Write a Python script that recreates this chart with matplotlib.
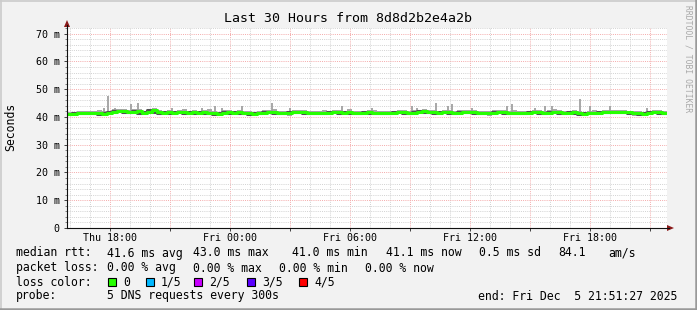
import numpy as np
import matplotlib
matplotlib.use("Agg")
import matplotlib.pyplot as plt
from matplotlib.lines import Line2D
from matplotlib.patches import Polygon, Rectangle

plt.rcParams['font.family'] = ['DejaVu Sans Mono']

# time in hours since Thu 00:00, 15 minute steps over the last 30 hours
start_h = 15.858
step_h = 0.25

median_ms = [
    41.2, 41.2, 41.5, 41.4, 41.3, 41.6, 41.5, 41.2, 41.4, 41.8, 42.3, 42.0, 41.7, 41.9, 42.1, 41.6, 41.8, 42.4, 41.9, 41.6,
    41.7, 41.3, 41.8, 41.9, 41.5, 41.7, 41.6, 41.8, 41.5, 41.4, 41.2, 41.6, 41.8, 41.5, 41.7, 41.6, 41.3, 41.2, 41.5, 41.6,
    41.7, 41.9, 41.6, 41.5, 41.3, 41.7, 41.8, 41.9, 41.6, 41.3, 41.5, 41.6, 41.4, 41.7, 41.8, 41.6, 41.9, 41.5, 41.3, 41.6,
    41.7, 41.6, 41.4, 41.5, 41.3, 41.4, 41.8, 41.7, 41.4, 41.6, 41.9, 42.0, 41.8, 41.7, 41.6, 41.8, 41.7, 41.5, 41.6, 41.7,
    41.9, 41.7, 41.5, 41.6, 41.3, 41.6, 41.8, 41.7, 41.5, 41.6, 41.3, 41.5, 41.4, 41.7, 41.8, 41.5, 41.6, 41.9, 41.7, 41.5,
    41.3, 41.8, 41.5, 41.2, 41.4, 41.6, 41.3, 41.7, 41.8, 41.8, 41.9, 41.9, 41.7, 41.3, 41.4, 41.2, 41.3, 41.8, 41.7, 41.5,
]
smoke_hi = [
    41.9, 41.8, 42.2, 42.0, 42.1, 42.3, 42.4, 42.0, 42.2, 42.9, 43.0, 42.8, 42.5, 42.8, 42.9, 42.3, 42.7, 43.2, 42.6, 42.3,
    42.6, 42.0, 42.5, 42.7, 42.2, 42.4, 42.3, 42.6, 42.8, 42.1, 41.9, 42.5, 42.6, 42.2, 42.5, 42.3, 42.0, 41.9, 42.2, 42.4,
    42.5, 42.7, 42.3, 42.2, 42.0, 42.4, 42.6, 42.6, 42.3, 42.0, 42.2, 42.4, 42.1, 42.6, 42.5, 42.3, 42.7, 42.2, 42.0, 42.3,
    42.4, 42.5, 42.1, 42.3, 42.0, 42.2, 42.6, 42.4, 42.2, 42.5, 42.6, 42.7, 42.5, 42.4, 42.3, 42.6, 42.4, 42.2, 42.4, 42.5,
    42.6, 42.4, 42.3, 42.3, 42.0, 42.4, 42.6, 42.5, 42.2, 42.4, 42.0, 42.3, 42.1, 42.5, 42.6, 42.3, 42.4, 42.7, 42.4, 42.2,
    42.1, 42.6, 42.3, 41.9, 42.1, 42.4, 42.0, 42.4, 42.5, 42.4, 42.6, 42.5, 42.3, 42.0, 42.1, 41.9, 42.0, 42.5, 42.4, 42.2,
]
smoke_lo = [
    40.7, 40.8, 41.0, 40.9, 40.8, 41.0, 41.0, 40.7, 40.8, 41.2, 41.5, 41.3, 41.0, 41.2, 41.4, 41.0, 41.1, 41.6, 41.2, 41.0,
    41.0, 40.8, 41.1, 41.2, 40.8, 41.0, 40.9, 41.1, 40.8, 40.7, 40.6, 40.9, 41.1, 40.8, 41.0, 40.9, 40.7, 40.6, 40.8, 40.9,
    41.0, 41.2, 40.9, 40.8, 40.5, 41.0, 41.1, 41.2, 40.9, 40.6, 40.8, 40.9, 40.7, 41.0, 41.1, 40.9, 41.2, 40.8, 40.6, 40.9,
    41.0, 40.9, 40.7, 40.8, 40.6, 40.7, 41.1, 41.0, 40.7, 40.9, 41.2, 41.3, 41.1, 41.0, 40.9, 41.1, 41.0, 40.8, 40.9, 41.0,
    41.2, 41.0, 40.8, 40.9, 40.4, 40.9, 41.1, 41.0, 40.8, 40.9, 40.6, 40.8, 40.7, 41.0, 41.1, 40.8, 40.9, 41.2, 41.0, 40.8,
    40.6, 41.1, 40.8, 40.5, 40.7, 40.9, 40.6, 41.0, 41.1, 41.1, 41.2, 41.2, 41.0, 40.2, 40.2, 40.5, 40.6, 41.1, 41.0, 40.8,
]
# single tall pings (hours, ms)
spike_h = [17.71, 17.91, 18.26, 19.06, 19.41, 21.11, 22.61, 23.26, 23.61, 24.61, 26.11, 27.01, 29.61, 31.11,
           33.11, 33.36, 34.31, 34.91, 35.11, 36.11, 37.86, 38.11, 39.26, 39.76, 40.11, 41.51, 42.01, 43.01, 44.86]
spike_ms = [43.4, 47.7, 43.4, 44.5, 45.2, 43.4, 43.4, 43.8, 43.4, 43.8, 44.9, 43.4, 43.8, 43.4,
            43.8, 43.4, 45.2, 43.8, 44.5, 43.4, 43.8, 44.5, 43.4, 44.1, 43.8, 46.3, 43.8, 43.8, 43.4]

xtick_h = [18, 24, 30, 36, 42]
xtick_labels = ['Thu 18:00', 'Fri 00:00', 'Fri 06:00', 'Fri 12:00', 'Fri 18:00']
ytick_ms = [0, 10, 20, 30, 40, 50, 60, 70]
ytick_labels = ['0', '10 m', '20 m', '30 m', '40 m', '50 m', '60 m', '70 m']

loss_labels = ['0', '1/5', '2/5', '3/5', '4/5']
loss_colors = ['#26ff00', '#00b8ff', '#c800ff', '#5a00ff', '#ff0000']

W, H = 697, 310


def fx(x):
    return x / W


def fy(y):
    return 1 - y / H


fig = plt.figure(figsize=(W / 100, H / 100), dpi=100)
fig.patch.set_facecolor('#f2f2f2')

ax = fig.add_axes([fx(67), fy(228), 600 / W, 200 / H])
ax.set_facecolor('white')
for s in ax.spines.values():
    s.set_visible(False)

end_h = start_h + 30
ax.set_xlim(start_h, end_h)
ax.set_ylim(0, 72.05)

# grid: 1h / 3h vertical, 2 ms / 10 ms horizontal
major_x = np.arange(18, end_h, 3)
minor_x = [h for h in range(16, int(end_h) + 1) if h % 3 != 0]
minor_y = [v for v in range(2, 73, 2) if v % 10 != 0]
ax.set_xticks(major_x)
ax.set_xticklabels([xtick_labels[xtick_h.index(h)] if h in xtick_h else '' for h in major_x])
ax.set_xticks(minor_x, minor=True)
ax.set_yticks(ytick_ms)
ax.set_yticklabels(ytick_labels)
ax.set_yticks(minor_y, minor=True)
ax.grid(which='minor', color='#d2d2d2', linestyle=(0, (1, 1.2)), linewidth=0.7)
ax.grid(which='major', color='#f4aaaa', linestyle=(0, (1, 1.2)), linewidth=0.7)
ax.set_axisbelow(True)
ax.tick_params(axis='x', which='major', length=2.2, width=0.7, color='#404040', pad=1.2, labelsize=7.2)
ax.tick_params(axis='x', which='minor', length=0)
ax.tick_params(axis='y', which='major', length=2.2, width=0.7, color='#404040', pad=3.2, labelsize=7.2)
ax.tick_params(axis='y', which='minor', length=1.5, width=0.7, color='#808080')

# smoke and median
t = start_h + step_h * np.arange(len(median_ms))
t_edges = np.append(t, end_h)
med = np.array(median_ms)
ax.fill_between(t_edges, np.append(smoke_lo, smoke_lo[-1]), np.append(smoke_hi, smoke_hi[-1]),
                step='post', color='#a8a8a8', linewidth=0, zorder=2)
idx = ((np.array(spike_h) - start_h) / step_h).astype(int)
ax.vlines(spike_h, med[idx], spike_ms, color='#a0a0a0', linewidth=1.3, zorder=2)
ax.step(t_edges, np.append(med, med[-1]), where='pre', color='#505050', linewidth=2.2, zorder=3)
ax.step(t_edges, np.append(med, med[-1]), where='post', color=loss_colors[0], linewidth=2.2, zorder=4)

# axes lines and arrows
fig.add_artist(Line2D([fx(67), fx(669)], [fy(228), fy(228)], color='#101010', linewidth=0.8))
fig.add_artist(Line2D([fx(67), fx(67)], [fy(228), fy(25)], color='#101010', linewidth=0.8))
fig.add_artist(Polygon([[fx(674), fy(228)], [fx(667), fy(225)], [fx(667), fy(231)]],
                       closed=True, color='#8b1a1a', linewidth=0))
fig.add_artist(Polygon([[fx(67), fy(20)], [fx(64), fy(27)], [fx(70), fy(27)]],
                       closed=True, color='#8b1a1a', linewidth=0))

# frame shading
fig.add_artist(Line2D([0, 1], [fy(0.5), fy(0.5)], color='#cbcbcb', linewidth=1.2))
fig.add_artist(Line2D([fx(0.5), fx(0.5)], [0, 1], color='#cbcbcb', linewidth=1.2))
fig.add_artist(Line2D([0, 1], [fy(309), fy(309)], color='#999999', linewidth=1.8))
fig.add_artist(Line2D([fx(696), fx(696)], [0, 1], color='#999999', linewidth=1.8))

# titles
fig.text(fx(348), fy(19), 'Last 30 Hours from 8d8d2b2e4a2b', ha='center', va='center', fontsize=9.5)
fig.text(fx(11), fy(127), 'Seconds', rotation=90, ha='center', va='center', fontsize=8.3)
fig.text(fx(688), fy(5), 'RRDTOOL / TOBI OETIKER', rotation=270, ha='center', va='top',
         fontsize=5.8, color='#a8a8a8')

# legend
fs = 8.3
rows = [
    (253, [(16, 'median rtt:'), (107, '41.6 ms avg'), (193, '43.0 ms max'), (292, '41.0 ms min'),
           (386, '41.1 ms now'), (479, '0.5 ms sd'), (558, '84.1'), (608, 'am/s')]),
    (268, [(16, 'packet loss:'), (107, '0.00 % avg'), (193, '0.00 % max'), (279, '0.00 % min'),
           (365, '0.00 % now')]),
    (282, [(16, 'loss color:')]),
    (296, [(16, 'probe:'), (107, '5 DNS requests every 300s'), (478, 'end: Fri Dec  5 21:51:27 2025')]),
]
for y, items in rows:
    for x, s in items:
        fig.text(fx(x), fy(y), s, ha='left', va='center', fontsize=fs)

box_x = [108, 146, 194, 247, 299]
for bx, lab, col in zip(box_x, loss_labels, loss_colors):
    fig.add_artist(Rectangle((fx(bx), fy(286)), 8 / W, 8 / H, facecolor=col, edgecolor='black', linewidth=0.8))
    fig.text(fx(bx + 15), fy(282), lab, ha='left', va='center', fontsize=fs)

fig.savefig('out.png', dpi=100, facecolor=fig.get_facecolor())
